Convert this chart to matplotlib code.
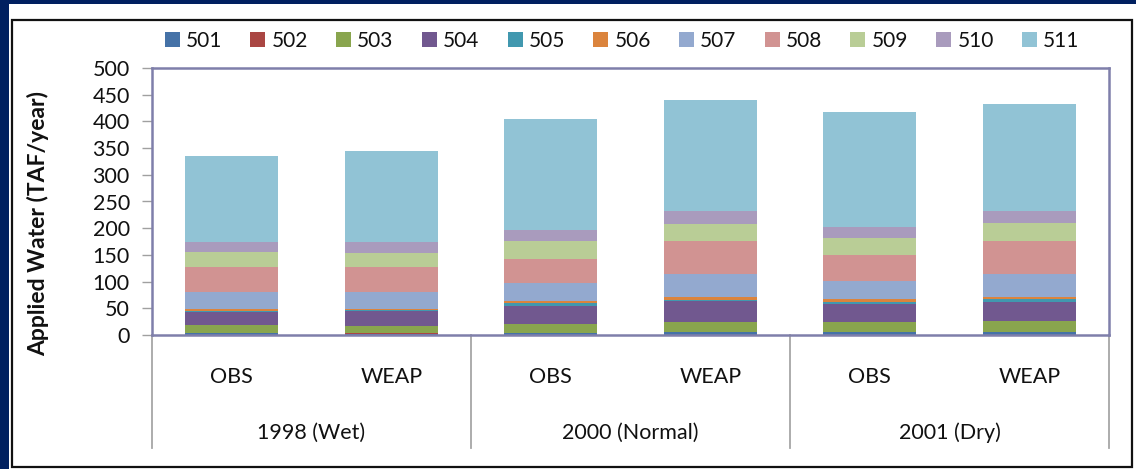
import matplotlib
matplotlib.use("Agg")
import matplotlib.pyplot as plt
from matplotlib.patches import Rectangle
import numpy as np

plt.rcParams['font.family'] = ['Lato', 'DejaVu Sans']

bars = ["OBS", "WEAP", "OBS", "WEAP", "OBS", "WEAP"]
groups = ["1998 (Wet)", "2000 (Normal)", "2001 (Dry)"]
series_names = ["501", "502", "503", "504", "505", "506", "507", "508", "509", "510", "511"]
colors = ["#4572A7", "#AA4643", "#89A54E", "#71588F", "#4198AF", "#DB843D",
          "#93A9CF", "#D19392", "#B9CD96", "#A99BBD", "#91C3D5"]

s501 = [4.0, 1.0, 3.5, 5.5, 5.5, 5.5]
s502 = [0.5, 3.0, 0.3, 0.3, 0.3, 0.3]
s503 = [14.5, 13.0, 17.0, 18.5, 18.7, 20.6]
s504 = [24.0, 27.5, 33.7, 39.4, 34.3, 35.6]
s505 = [2.0, 1.5, 5.7, 2.5, 3.8, 5.6]
s506 = [3.7, 2.5, 3.7, 5.0, 5.0, 3.8]
s507 = [32.0, 31.5, 33.7, 43.6, 33.6, 43.6]
s508 = [46.5, 47.0, 45.0, 61.2, 48.8, 61.2]
s509 = [28.0, 26.0, 34.3, 32.0, 32.0, 33.8]
s510 = [19.0, 21.0, 18.8, 24.0, 20.3, 22.2]
s511 = [161.0, 170.5, 208.0, 208.0, 215.7, 200.7]
series = [s501, s502, s503, s504, s505, s506, s507, s508, s509, s510, s511]

W, H = 1136, 469
fig = plt.figure(figsize=(W / 100, H / 100), dpi=100)
fig.patch.set_facecolor("#002060")
fig.patches.append(Rectangle((9 / W, 0), 1 - 9 / W, (H - 4) / H, transform=fig.transFigure,
                             facecolor="white", edgecolor="none", zorder=-2))
fig.patches.append(Rectangle((12 / W, 2 / H), (1132 - 12) / W, (467 - 20) / H, transform=fig.transFigure,
                             facecolor="none", edgecolor="#111111", linewidth=1.6, zorder=-1))

L, R, T, B = 152, 1109, 68, 335
ax = fig.add_axes([L / W, (H - B) / H, (R - L) / W, (B - T) / H])
x = np.arange(len(bars))
bottom = np.zeros(len(bars))
handles = []
for name, vals, c in zip(series_names, series, colors):
    h = ax.bar(x, vals, width=0.58, bottom=bottom, color=c, label=name, linewidth=0)
    handles.append(h)
    bottom += np.array(vals)

ax.set_xlim(-0.5, len(bars) - 0.5)
ax.set_ylim(0, 500)
ax.set_yticks(np.arange(0, 501, 50))
ax.tick_params(axis='y', direction='out', length=7, width=1, color="#A0A0A0",
               labelsize=15.5, pad=9, labelcolor="#111111")
ax.set_xticks([])
for s in ax.spines.values():
    s.set_color("#7F7FAA")
    s.set_linewidth(1.8)

trans = ax.get_xaxis_transform()
for i, lab in enumerate(bars):
    ax.text(i, -0.157, lab, transform=trans, ha='center', va='center', fontsize=15.5, color="#111111")
for g, lab in enumerate(groups):
    ax.text(2 * g + 0.5, -0.367, lab, transform=trans, ha='center', va='center', fontsize=15.5, color="#111111")
for xs in [-0.5, 1.5, 3.5, 5.5]:
    ax.plot([xs, xs], [0, -0.423], transform=trans, color="#A6A6A6", linewidth=1.3,
            clip_on=False, zorder=0)

fig.text(38 / W, 1 - 223.5 / H, "Applied Water (TAF/year)", rotation=90, ha='center', va='center',
         fontsize=16.5, fontweight='bold', color="#111111")

leg = fig.legend(handles=handles, labels=series_names, loc='center', ncol=11,
                 bbox_to_anchor=(622 / W, 1 - 41 / H), frameon=False, fontsize=15,
                 handlelength=0.72, handleheight=0.72, handletextpad=0.3, columnspacing=1.35,
                 borderpad=0, borderaxespad=0)
for t in leg.get_texts():
    t.set_color("#111111")

fig.savefig("out.png", dpi=100, facecolor=fig.get_facecolor())
